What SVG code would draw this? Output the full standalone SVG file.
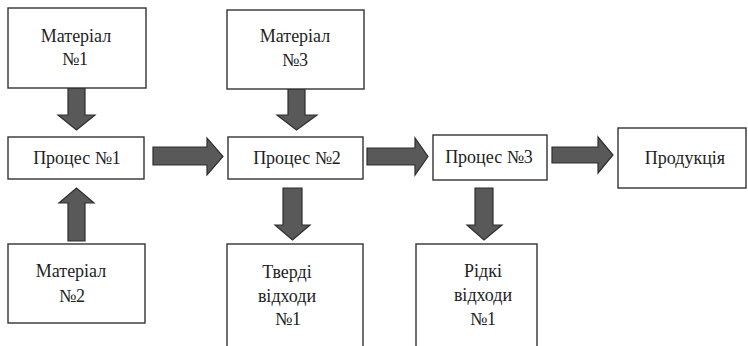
<svg xmlns="http://www.w3.org/2000/svg" width="748" height="346" viewBox="0 0 748 346">
<defs>
<style>
.box{fill:#fff;stroke:#333;stroke-width:1.4}
.arr{fill:#595959;stroke:#2e2e2e;stroke-width:1.2;stroke-linejoin:miter}
</style>
</defs>
<rect width="748" height="346" fill="#fff"/>
<g id="connectors">
<polygon class="arr" points="68,88 85,88 85,115 95,115 76.5,130 58,115 68,115"/>
<polygon class="arr" points="68,241 85,241 85,203 94,203 76.5,188 59,203 68,203"/>
<polygon class="arr" points="288,89 305,89 305,115 317,115 296.5,130 277,115 288,115"/>
<polygon class="arr" points="283,188 302,188 302,225 310,225 292.5,240 275,225 283,225"/>
<polygon class="arr" points="475,188 493,188 493,225 502,225 484,240 467,225 475,225"/>
<polygon class="arr" points="153,147 207,147 207,138 223,156.5 207,175 207,165 153,165"/>
<polygon class="arr" points="367,148 415,148 415,138 428,156.5 415,175 415,165 367,165"/>
<polygon class="arr" points="552,147 598,147 598,137 613,155 598,173 598,163 552,163"/>
</g>
<g id="material1"><rect class="box" x="8" y="8" width="138" height="80"/><text font-family="Liberation Serif" font-size="18" fill="#1e1e1e" text-anchor="middle" x="76" y="42">Матеріал</text><text font-family="Liberation Serif" font-size="18" fill="#1e1e1e" text-anchor="middle" x="75" y="65">№1</text></g>
<g id="material3"><rect class="box" x="227" y="10" width="137" height="79"/><text font-family="Liberation Serif" font-size="18" fill="#1e1e1e" text-anchor="middle" x="295" y="42">Матеріал</text><text font-family="Liberation Serif" font-size="18" fill="#1e1e1e" text-anchor="middle" x="295" y="66">№3</text></g>
<g id="material2"><rect class="box" x="8" y="244" width="137" height="79"/><text font-family="Liberation Serif" font-size="18" fill="#1e1e1e" text-anchor="middle" x="71" y="277">Матеріал</text><text font-family="Liberation Serif" font-size="18" fill="#1e1e1e" text-anchor="middle" x="72" y="302">№2</text></g>
<g id="process1"><rect class="box" x="8" y="137" width="136" height="42"/><text font-family="Liberation Serif" font-size="18" fill="#1e1e1e" text-anchor="middle" x="77" y="164">Процес №1</text></g>
<g id="process2"><rect class="box" x="228" y="137" width="135" height="42"/><text font-family="Liberation Serif" font-size="18" fill="#1e1e1e" text-anchor="middle" x="297" y="164">Процес №2</text></g>
<g id="process3"><rect class="box" x="433" y="135" width="114" height="45"/><text font-family="Liberation Serif" font-size="18" fill="#1e1e1e" text-anchor="middle" x="489" y="163">Процес №3</text></g>
<g id="product"><rect class="box" x="618" y="128" width="128" height="60"/><text font-family="Liberation Serif" font-size="18" fill="#1e1e1e" text-anchor="middle" x="685" y="164">Продукція</text></g>
<g id="solid"><rect class="box" x="227" y="244" width="136" height="110"/><text font-family="Liberation Serif" font-size="18" fill="#1e1e1e" text-anchor="middle" x="287" y="278">Тверді</text><text font-family="Liberation Serif" font-size="18" fill="#1e1e1e" text-anchor="middle" x="287" y="302">відходи</text><text font-family="Liberation Serif" font-size="18" fill="#1e1e1e" text-anchor="middle" x="288" y="325">№1</text></g>
<g id="liquid"><rect class="box" x="416" y="244" width="121" height="110"/><text font-family="Liberation Serif" font-size="18" fill="#1e1e1e" text-anchor="middle" x="483" y="277">Рідкі</text><text font-family="Liberation Serif" font-size="18" fill="#1e1e1e" text-anchor="middle" x="483" y="301">відходи</text><text font-family="Liberation Serif" font-size="18" fill="#1e1e1e" text-anchor="middle" x="483" y="325">№1</text></g>
</svg>
